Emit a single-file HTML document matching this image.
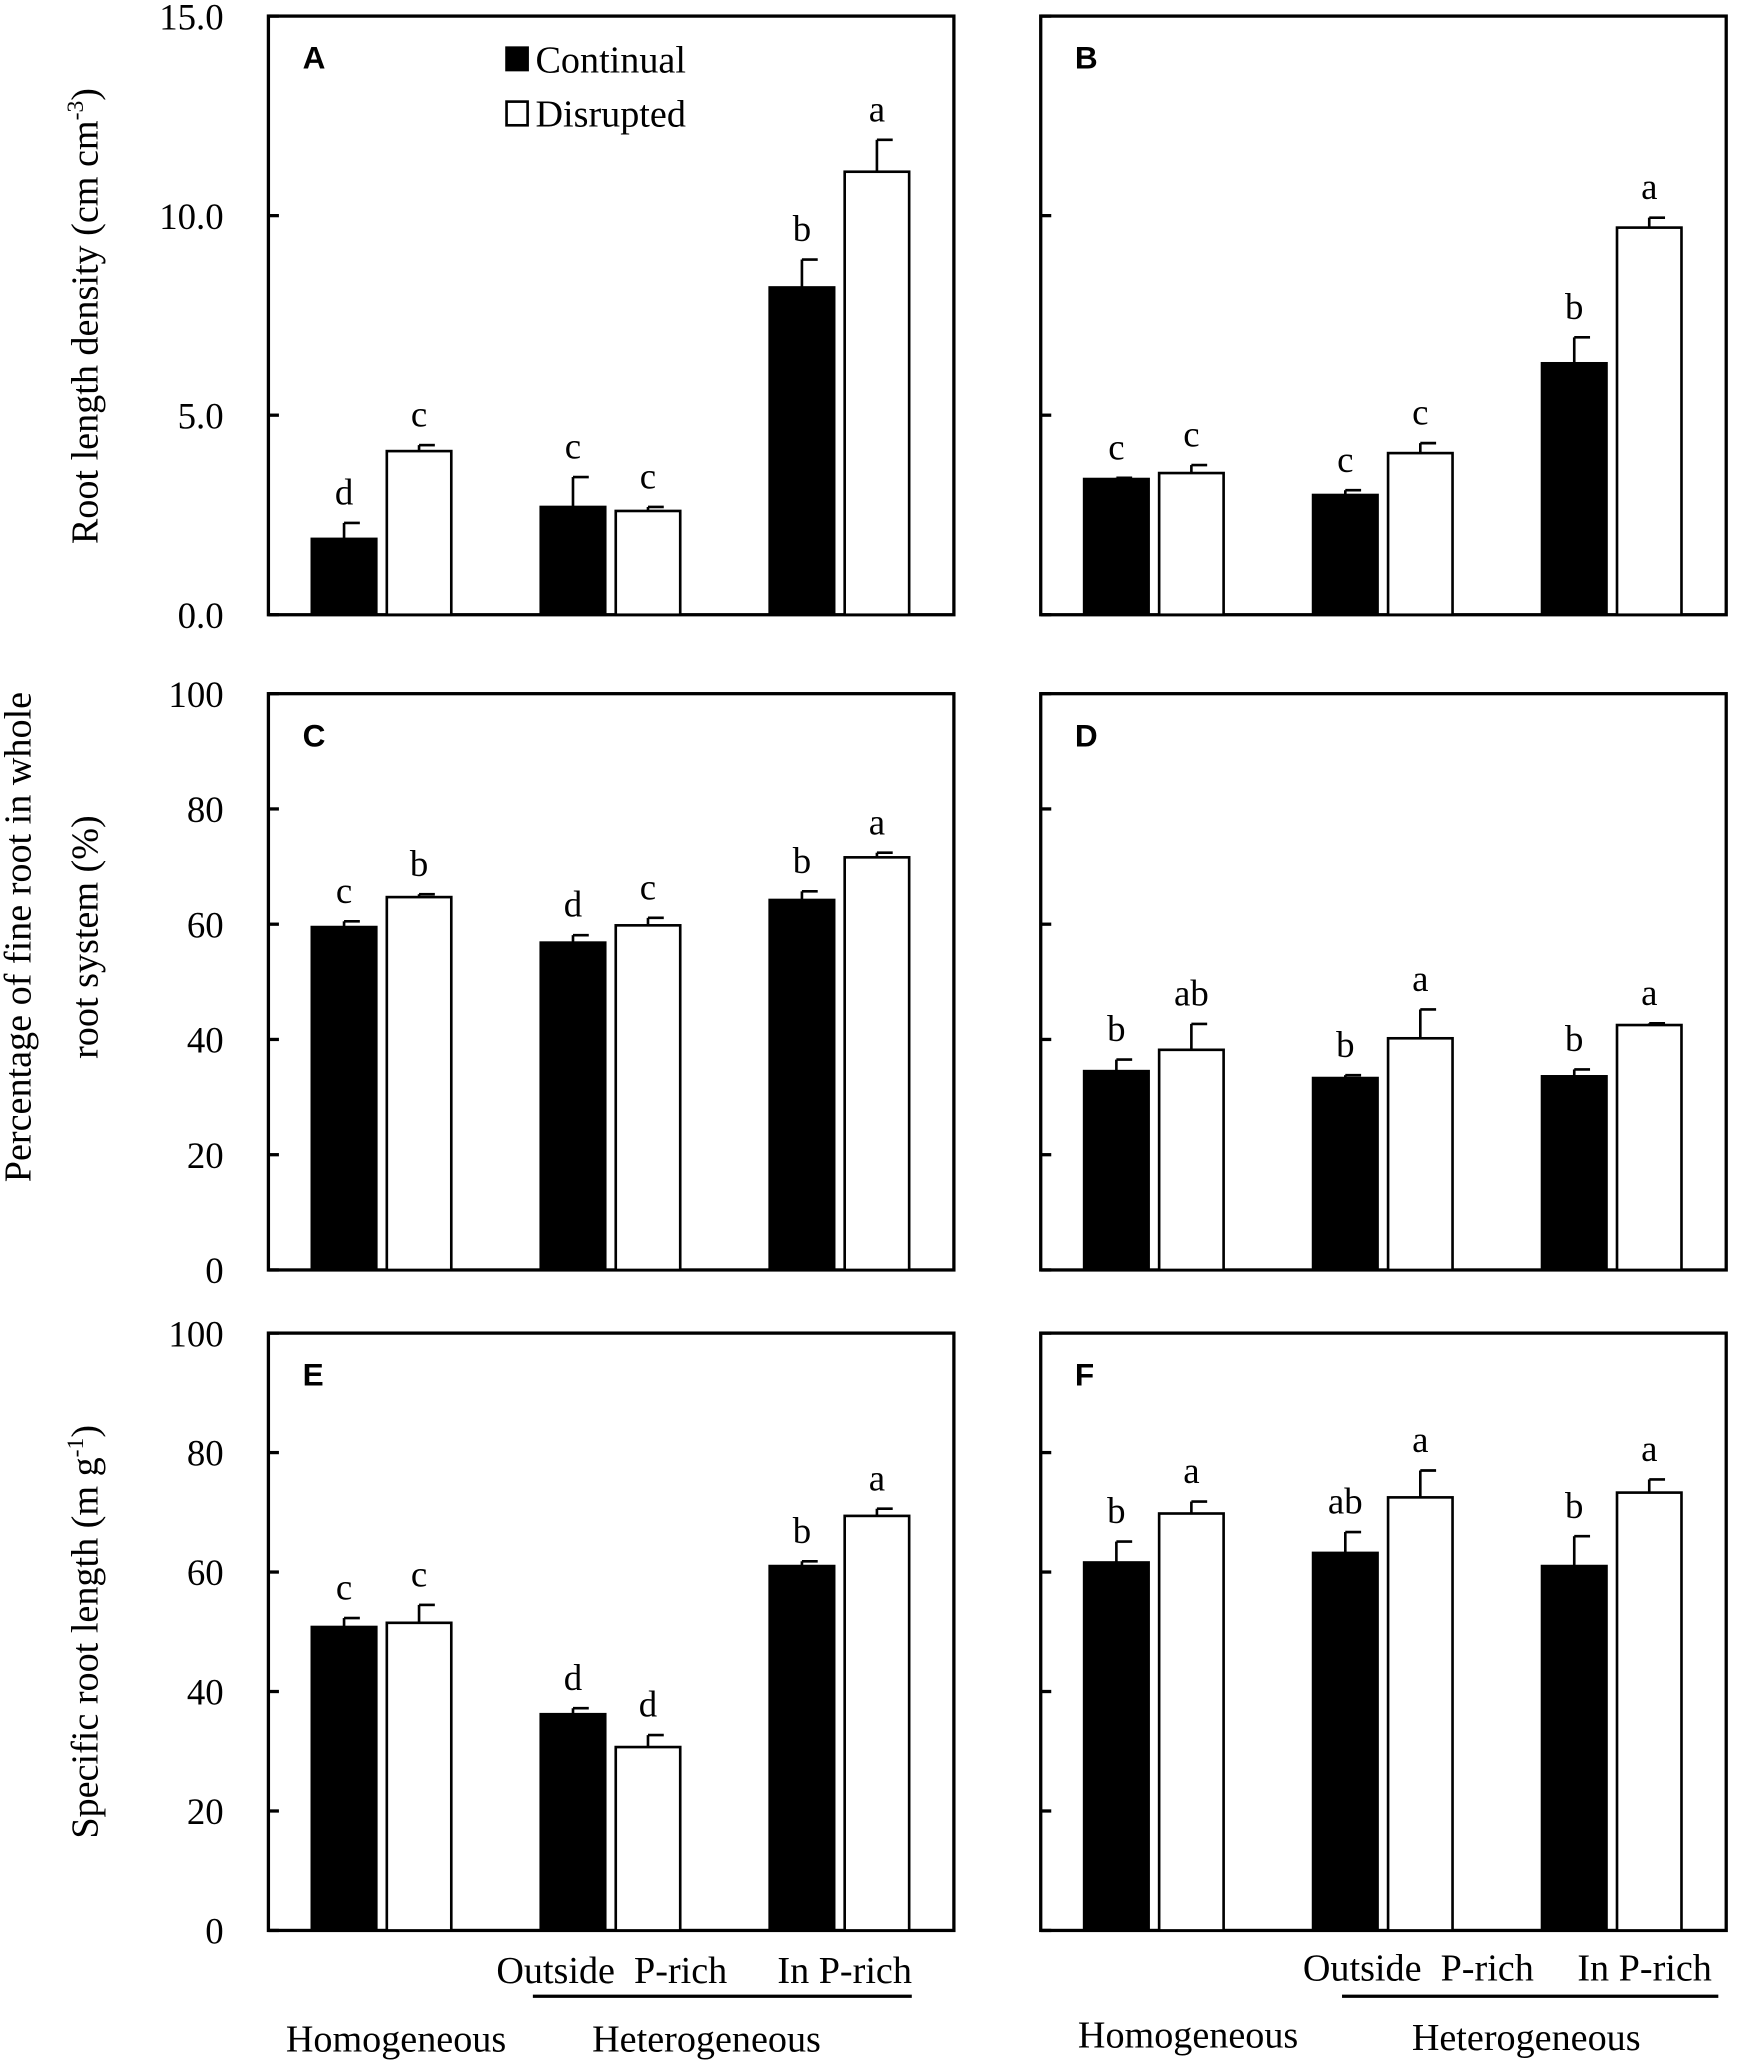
<!DOCTYPE html>
<html><head><meta charset="utf-8">
<style>
html,body{margin:0;padding:0;background:#fff;}
svg{display:block;}
text{font-family:"Liberation Serif",serif;fill:#000;}
.pl{font-family:"Liberation Sans",sans-serif;font-weight:bold;}
</style></head>
<body>
<svg id="fig" width="1742" height="2061" viewBox="0 0 1324 1566" xmlns="http://www.w3.org/2000/svg">
<g id="root"></g>
</svg>
<script>
const groups = ["Homogeneous", "Outside P-rich", "In P-rich"];
const aCont = [1.9, 2.7, 8.2], aContErr = [0.4, 0.75, 0.7], aDisr = [4.1, 2.6, 11.1], aDisrErr = [0.15, 0.1, 0.8];
const aContLet = ["d","c","b"], aDisrLet = ["c","c","a"];
const bCont = [3.4, 3.0, 6.3], bContErr = [0.03, 0.12, 0.65], bDisr = [3.55, 4.05, 9.7], bDisrErr = [0.2, 0.25, 0.25];
const bContLet = ["c","c","b"], bDisrLet = ["c","c","a"];
const cCont = [59.5, 56.8, 64.2], cContErr = [1, 1.3, 1.5], cDisr = [64.7, 59.8, 71.6], cDisrErr = [0.5, 1.3, 0.8];
const cContLet = ["c","d","b"], cDisrLet = ["b","c","a"];
const dCont = [34.5, 33.3, 33.6], dContErr = [2, 0.5, 1.2], dDisr = [38.2, 40.2, 42.5], dDisrErr = [4.5, 5, 0.3];
const dContLet = ["b","b","b"], dDisrLet = ["ab","a","a"];
const eCont = [50.8, 36.2, 61], eContErr = [1.5, 1, 0.8], eDisr = [51.5, 30.7, 69.4], eDisrErr = [3, 2, 1.2];
const eContLet = ["c","d","b"], eDisrLet = ["c","d","a"];
const fCont = [61.6, 63.2, 61], fContErr = [3.5, 3.5, 5], fDisr = [69.8, 72.5, 73.3], fDisrErr = [2, 4.5, 2.2];
const fContLet = ["b","ab","b"], fDisrLet = ["a","a","a"];
const ticksRLD = ["0.0","5.0","10.0","15.0"];
const ticksPct = ["0","20","40","60","80","100"];

const NS = "http://www.w3.org/2000/svg";
const root = document.getElementById('root');
function mk(tag, attrs, parent, txt){
  const e = document.createElementNS(NS, tag);
  for (const k in attrs) e.setAttribute(k, attrs[k]);
  if (txt !== undefined) e.textContent = txt;
  (parent || root).appendChild(e);
  return e;
}
function panel(id, x0, y0, y1, max, ticks, showLabels, cont, contErr, disr, disrErr, contLet, disrLet){
  const g = mk('g', {});
  
  
  const w = 521;
  const yS = v => y1 - (v / max) * (y1 - y0);
  const frame = mk('rect', {x:x0, y:y0, width:w, height:y1-y0, fill:'none', stroke:'#000', 'stroke-width':2.5}, g);
  
  
  ticks.forEach(t => {
    const v = parseFloat(t), y = yS(v);
    const tk = mk('line', {x1:x0, x2:x0+8, y1:y, y2:y, stroke:'#000', 'stroke-width':2.5}, g);
    
    
    if (showLabels) {
      const tl = mk('text', {x:x0-34, y:y+10, 'font-size':28, 'text-anchor':'end'}, g, t);
      
      
    }
  });
  const pl = mk('text', {x:x0+26, y:y0+40, 'font-size':24, class:'pl'}, g, id);
  
  
  const bw = 49;
  for (let i = 0; i < groups.length; i++) {
    const gc = x0 + 86 + i * 174;
    [[cont, contErr, contLet, gc - 53, '#000', 'continual'], [disr, disrErr, disrLet, gc + 4, '#fff', 'disrupted']].forEach(s => {
      const v = s[0][i], e = s[1][i], bx = s[3];
      const yt = yS(v), ye = yS(v + e);
      const cx = bx + bw / 2;
      const er = mk('line', {x1:cx, x2:cx, y1:yt, y2:ye, stroke:'#000', 'stroke-width':2}, g);
      
      
      const cap = mk('line', {x1:cx, x2:cx+12, y1:ye, y2:ye, stroke:'#000', 'stroke-width':2}, g);
      
      
      const r = mk('rect', {x:bx, y:yt, width:bw, height:y1-yt, fill:s[4], stroke:'#000', 'stroke-width':2}, g);
      
      
      const lt = mk('text', {x:cx, y:ye-14, 'font-size':28, 'text-anchor':'middle'}, g, s[2][i]);
      
      
    });
  }
}
panel('A', 204, 12, 467, 15, ticksRLD, true, aCont, aContErr, aDisr, aDisrErr, aContLet, aDisrLet);
panel('B', 791, 12, 467, 15, ticksRLD, false, bCont, bContErr, bDisr, bDisrErr, bContLet, bDisrLet);
panel('C', 204, 527, 965, 100, ticksPct, true, cCont, cContErr, cDisr, cDisrErr, cContLet, cDisrLet);
panel('D', 791, 527, 965, 100, ticksPct, false, dCont, dContErr, dDisr, dDisrErr, dContLet, dDisrLet);
panel('E', 204, 1013, 1467, 100, ticksPct, true, eCont, eContErr, eDisr, eDisrErr, eContLet, eDisrLet);
panel('F', 791, 1013, 1467, 100, ticksPct, false, fCont, fContErr, fDisr, fDisrErr, fContLet, fDisrLet);
</script>
<svg style="position:absolute;left:0;top:0" width="1742" height="2061" viewBox="0 0 1324 1566" xmlns="http://www.w3.org/2000/svg">
<g>
  <rect x="384" y="35" width="18" height="19" fill="#000"/>
  <text x="407" y="55" font-size="29">Continual</text>
  <rect x="385" y="77" width="16" height="18" fill="#fff" stroke="#000" stroke-width="2"/>
  <text x="407" y="96" font-size="29">Disrupted</text>
</g>
<text font-size="29" text-anchor="middle" transform="translate(74,240) rotate(-90)">Root length density (cm cm<tspan dy="-11" font-size="18">-3</tspan><tspan dy="11">)</tspan></text>
<text font-size="29" text-anchor="middle" transform="translate(23,712) rotate(-90)">Percentage of fine root in whole</text>
<text font-size="29" text-anchor="middle" transform="translate(74,712) rotate(-90)">root system (%)</text>
<text font-size="29" text-anchor="middle" transform="translate(74,1240) rotate(-90)">Specific root length (m g<tspan dy="-11" font-size="18">-1</tspan><tspan dy="11">)</tspan></text>
<g>
  <text x="465" y="1507" font-size="29" text-anchor="middle">Outside&#160;&#160;P-rich</text>
  <text x="642" y="1507" font-size="29" text-anchor="middle">In P-rich</text>
  <line x1="405" x2="693" y1="1517" y2="1517" stroke="#000" stroke-width="2.5"/>
  <text x="301" y="1559" font-size="29" text-anchor="middle">Homogeneous</text>
  <text x="537" y="1559" font-size="29" text-anchor="middle">Heterogeneous</text>
</g>
<g>
  <text x="1078" y="1505" font-size="29" text-anchor="middle">Outside&#160;&#160;P-rich</text>
  <text x="1250" y="1505" font-size="29" text-anchor="middle">In P-rich</text>
  <line x1="1020" x2="1306" y1="1517" y2="1517" stroke="#000" stroke-width="2.5"/>
  <text x="903" y="1556" font-size="29" text-anchor="middle">Homogeneous</text>
  <text x="1160" y="1558" font-size="29" text-anchor="middle">Heterogeneous</text>
</g>
</svg>
</body></html>
